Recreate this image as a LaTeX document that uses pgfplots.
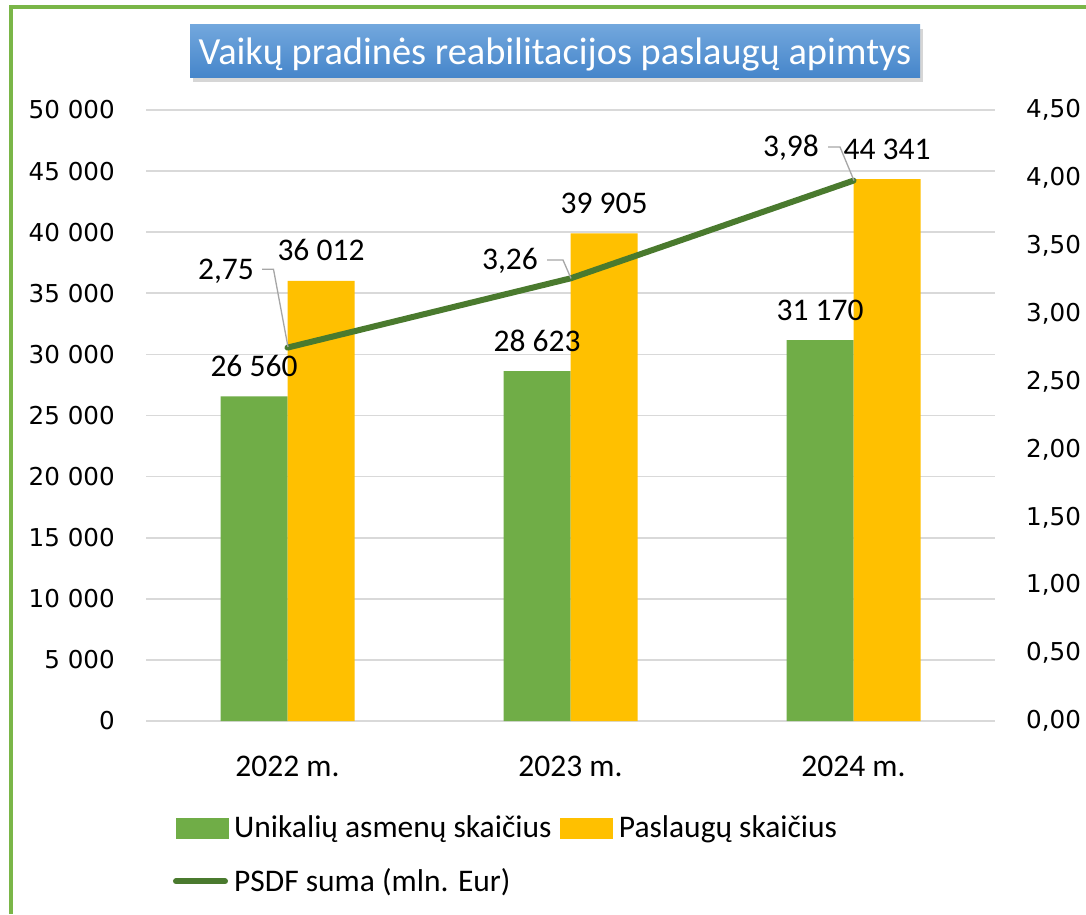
\documentclass[border=0pt]{standalone}
\usepackage{fontspec}
\setmainfont{Carlito}
\newfontfamily\dejavu{DejaVu Sans}
\usepackage{pgfplots}
\pgfplotsset{compat=1.18}
\usetikzlibrary{shadows}
\definecolor{bargreen}{HTML}{70AD47}
\definecolor{bargold}{HTML}{FFC000}
\definecolor{linegreen}{HTML}{4A7A2E}
\definecolor{gridgray}{HTML}{D9D9D9}
\definecolor{framegreen}{HTML}{7AB648}
\definecolor{leadgray}{HTML}{A6A6A6}
\definecolor{titletop}{HTML}{72A7DD}
\definecolor{titlebot}{HTML}{4585CA}
\newcommand\lbl{\fontsize{31.5}{38}\selectfont}
\newcommand\tck{\dejavu\fontsize{24.6}{29}\selectfont}
\begin{document}
\begin{tikzpicture}[x=1pt,y=1pt]
\path[use as bounding box, fill=white] (0,0) rectangle (1086,914);
\draw[framegreen, line width=4pt] (11,0) -- (11,907) -- (1086,907);

\begin{axis}[
  at={(146pt,193pt)}, anchor=south west,
  width=849pt, height=611pt, scale only axis,
  xmin=-0.5, xmax=2.5, ymin=0, ymax=50000,
  ybar=0pt, bar width=67pt,
  xtick={0,1,2}, xticklabels={2022 m.,2023 m.,2024 m.},
  ytick={0,5000,10000,15000,20000,25000,30000,35000,40000,45000,50000},
  yticklabels={0,5 000,10 000,15 000,20 000,25 000,30 000,35 000,40 000,45 000,50 000},
  scaled y ticks=false,
  axis x line*=bottom, axis y line*=left,
  axis line style={draw=none}, major tick length=0pt,
  ymajorgrids, grid style={gridgray, line width=1.6pt},
  xticklabel style={font=\lbl, anchor=base, inner sep=0pt, yshift=-55pt},
  yticklabel style={font=\tck, anchor=east, inner sep=0pt, xshift=-31pt},
  nodes near coords, point meta=explicit symbolic,
  every node near coord/.append style={font=\lbl, anchor=base, inner sep=0pt, yshift=20pt, text=black},
]
\addplot[fill=bargreen, draw=none] coordinates {(0,26560)[26 560] (1,28623)[28 623] (2,31170)[31 170]};
\addplot[fill=bargold, draw=none] coordinates {(0,36012)[36 012] (1,39905)[39 905] (2,44341)[44 341]};
\end{axis}

\begin{axis}[
  at={(146pt,193pt)}, anchor=south west,
  width=849pt, height=611pt, scale only axis,
  xmin=-0.5, xmax=2.5, ymin=0, ymax=4.5,
  axis x line=none, axis y line*=right,
  axis line style={draw=none}, major tick length=0pt,
  ytick={0,0.5,1,1.5,2,2.5,3,3.5,4,4.5},
  yticklabels={{0,00},{0,50},{1,00},{1,50},{2,00},{2,50},{3,00},{3,50},{4,00},{4,50}},
  yticklabel style={font=\tck, anchor=west, inner sep=0pt, xshift=31pt},
  legend columns=2,
  legend style={at={(axis description cs:0.0318,-0.1522)}, anchor=north west,
    draw=none, fill=none, inner sep=0pt, outer sep=0pt,
    cells={anchor=base west, inner sep=0pt, font=\lbl},
    /tikz/every odd column/.append style={column sep=4pt},
    /tikz/every even column/.append style={column sep=7pt},
    row sep=25pt},
]
\addlegendimage{legend image code/.code={\fill[bargreen] (0pt,0pt) rectangle (52pt,20pt);}}
\addlegendentry{Unikalių asmenų skaičius}
\addlegendimage{legend image code/.code={\fill[bargold] (0pt,0pt) rectangle (52pt,20pt);}}
\addlegendentry{Paslaugų skaičius}
\addplot[linegreen, line width=6pt, line cap=round, mark=none,
  legend image code/.code={\draw[linegreen, line width=6pt, line cap=round] (0pt,10pt) -- (49pt,10pt);}]
  coordinates {(0,2.75) (1,3.26) (2,3.98)};
\addlegendentry{PSDF suma (mln. Eur)}
\end{axis}

% line data labels with leader lines
\draw[leadgray, line width=1.3pt] (262,644.7) -- (273.5,644.7) -- (288,567);
\draw[leadgray, line width=1.3pt] (547,654) -- (563,654) -- (571,635.6);
\draw[leadgray, line width=1.3pt] (828,767) -- (840,767) -- (854,733.4);
\node[font=\lbl, anchor=base, inner sep=0pt] at (226,634) {2,75};
\node[font=\lbl, anchor=base, inner sep=0pt] at (510,644) {3,26};
\node[font=\lbl, anchor=base, inner sep=0pt] at (791,757) {3,98};

% title
\path[top color=titletop, bottom color=titlebot, drop shadow={shadow xshift=3pt, shadow yshift=-4pt, fill=black!35, opacity=0.45}] (190,836) rectangle (920,889);
\node[font=\fontsize{38.4}{44}\selectfont, text=white, anchor=base, inner sep=0pt] at (555,849) {Vaikų pradinės reabilitacijos paslaugų apimtys};
\end{tikzpicture}
\end{document}
